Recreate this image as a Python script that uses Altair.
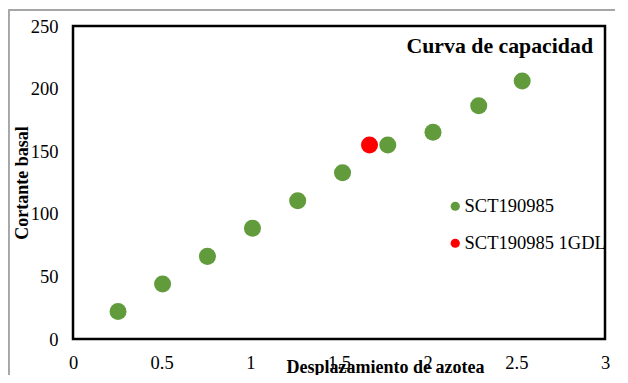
import altair as alt
import pandas as pd

series_names = ["SCT190985", "SCT190985 1GDL"]
x_green = [0.254, 0.505, 0.758, 1.012, 1.267, 1.52, 1.775, 2.03, 2.288, 2.533]
y_green = [22, 44, 66, 88.5, 110.5, 132.8, 155, 165.2, 186.3, 206]
x_red = [1.672]
y_red = [155]

x_ticks = [0, 0.5, 1, 1.5, 2, 2.5, 3]
y_ticks = [0, 50, 100, 150, 200, 250]
chart_title = ["Curva de capacidad"]

df = pd.DataFrame({
    "x": x_green + x_red,
    "y": y_green + y_red,
    "serie": [series_names[0]] * len(x_green) + [series_names[1]] * len(x_red),
    "order": [0] * len(x_green) + [1] * len(x_red),
})
title_df = pd.DataFrame({"t": chart_title})

FONT = "Liberation Serif"
W, H = 532, 313
LBL = 18.5

points = alt.Chart(df).mark_circle(size=290, opacity=1).encode(
    x=alt.X("x:Q", scale=alt.Scale(domain=[0, 3], nice=False),
            axis=alt.Axis(values=x_ticks, format="~g", title="Desplazamiento de azotea",
                          labelFont=FONT, labelFontSize=LBL, labelColor="black",
                          labelFlush=False,
                          titleX=312, titleY=33, titleAlign="center",
                          titleBaseline="alphabetic")),
    y=alt.Y("y:Q", scale=alt.Scale(domain=[0, 250], nice=False),
            axis=alt.Axis(values=y_ticks, title="Cortante basal",
                          labelFont=FONT, labelFontSize=LBL, labelColor="black",
                          labelFlush=False,
                          titleX=-46, titleY=H / 2, titleAngle=-90,
                          titleAlign="center", titleBaseline="alphabetic")),
    color=alt.Color("serie:N", scale=alt.Scale(domain=series_names,
                                               range=["#629b3c", "#ff0000"]),
                    legend=alt.Legend(title=None, orient="none", legendX=373, legendY=171,
                                      symbolSize=85, symbolType="circle",
                                      labelFont=FONT, labelFontSize=LBL, labelColor="black",
                                      labelOffset=0, rowPadding=18, padding=0,
                                      labelLimit=300)),
    order="order:Q",
)

title_text = alt.Chart(title_df).mark_text(
    align="right", baseline="alphabetic", font=FONT, fontSize=21.8, fontWeight="bold",
    color="black"
).encode(text="t:N", x=alt.value(520), y=alt.value(27))

border_top = alt.Chart(df).mark_rule(color="#a6a6a6", strokeWidth=1.2, clip=False).encode(
    x=alt.value(-64.4), x2=alt.value(W + 40), y=alt.value(-16))
border_left = alt.Chart(df).mark_rule(color="#a6a6a6", strokeWidth=1.2, clip=False).encode(
    x=alt.value(-64.4), y=alt.value(-16), y2=alt.value(H + 60))

chart = alt.layer(border_top, border_left, points, title_text).properties(
    width=W, height=H,
    autosize=alt.AutoSizeParams(type="none"),
    padding={"left": 65, "top": 18, "right": 10, "bottom": 36},
).configure(
    font=FONT
).configure_view(
    stroke="black", strokeWidth=2.5
).configure_axis(
    grid=False, domain=False, ticks=False,
    labelFont=FONT, labelFontSize=LBL, labelColor="black",
    titleFont=FONT, titleFontSize=18, titleFontWeight="bold", titleColor="black",
).configure_legend(
    labelFont=FONT
).configure_axisX(
    labelPadding=14, labelBaseline="top"
).configure_axisY(
    labelPadding=15
)

chart.save("out.html", embed_options={"renderer": "svg", "actions": False})
